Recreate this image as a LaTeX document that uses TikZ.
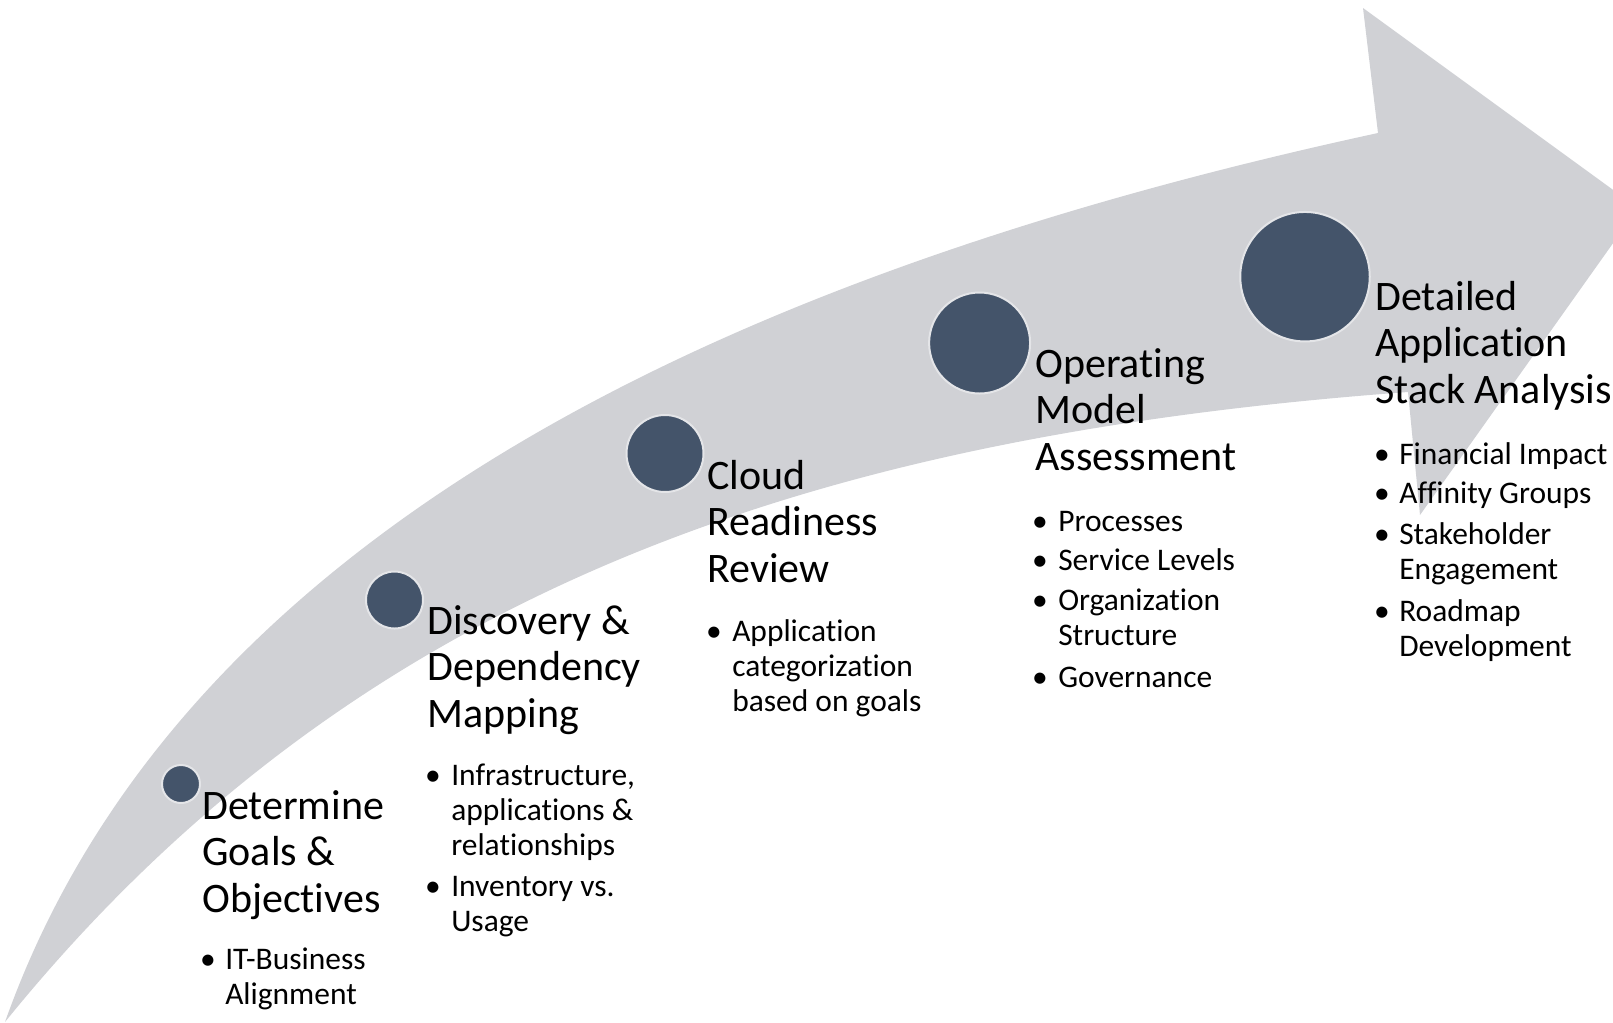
\documentclass[tikz,border=0pt]{standalone}
\usepackage{fontspec}
\setmainfont{Carlito}[Ligatures=NoCommon]
\definecolor{arrowgray}{RGB}{208,209,213}
\definecolor{dotfill}{RGB}{68,84,106}
\definecolor{dotring}{RGB}{228,229,232}
\newcommand\lines[1]{\begin{tabular}[t]{@{}l@{}}#1\end{tabular}}
\begin{document}
\begin{tikzpicture}[x=0.75pt,y=-0.75pt,
  ttl/.style={anchor=base west, inner sep=0pt, font=\fontsize{31.5pt}{35.2pt}\selectfont},
  itm/.style={anchor=base west, inner sep=0pt, font=\fontsize{23.6pt}{26.25pt}\selectfont},
  bul/.style={anchor=base, inner sep=0pt, font=\fontsize{23.6pt}{26.25pt}\selectfont},
  stepdot/.style={circle, fill=dotfill, draw=dotring, line width=1.5pt, inner sep=0pt}]
\useasboundingbox (0,0) rectangle (1613,1022);
\clip (0,0) rectangle (1613,1022);
% curved arrow
\fill[arrowgray] (5,1022) .. controls (189,503) and (792,260) .. (1378,133)
  -- (1363,8) -- (1638,208) -- (1420,515) -- (1408,392)
  .. controls (810,436) and (354,591) .. (5,1022) -- cycle;
% milestone dots
\node[stepdot, minimum size=38pt*0.75] (c1) at (181,784) {};
\node[stepdot, minimum size=57pt*0.75] (c2) at (394.5,600) {};
\node[stepdot, minimum size=77pt*0.75] (c3) at (665,453.5) {};
\node[stepdot, minimum size=101pt*0.75] (c4) at (979.6,343) {};
\node[stepdot, minimum size=129.5pt*0.75] (c5) at (1305,276.7) {};
% 1
\node[ttl] (t1) at (202,819) {\lines{Determine\\Goals \&\\Objectives}};
\node[bul] (b1a) at (208,969) {•};
\node[itm] (i1a) at (225,969) {\lines{IT-Business\\Alignment}};
% 2
\node[ttl] (t2) at (427,634) {\lines{Discovery \&\\Dependency\\Mapping}};
\node[bul] (b2a) at (433,785) {•};
\node[itm] (i2a) at (451,785) {\lines{Infrastructure,\\applications \&\\relationships}};
\node[bul] (b2b) at (433,896) {•};
\node[itm] (i2b) at (451,896) {\lines{Inventory vs.\\Usage}};
% 3
\node[ttl] (t3) at (707,489) {\lines{Cloud\\Readiness\\Review}};
\node[bul] (b3a) at (714,641) {•};
\node[itm] (i3a) at (732,641) {\lines{Application\\categorization\\based on goals}};
% 4
\node[ttl] (t4) at (1035,377) {\lines{Operating\\Model\\Assessment}};
\node[bul] (b4a) at (1040,531) {•};
\node[itm] (i4a) at (1058,531) {Processes};
\node[bul] (b4b) at (1040,570) {•};
\node[itm] (i4b) at (1058,570) {Service Levels};
\node[bul] (b4c) at (1040,610) {•};
\node[itm] (i4c) at (1058,610) {\lines{Organization\\Structure}};
\node[bul] (b4d) at (1040,687) {•};
\node[itm] (i4d) at (1058,687) {Governance};
% 5
\node[ttl] (t5) at (1375,310) {\lines{Detailed\\Application\\Stack Analysis}};
\node[bul] (b5a) at (1382,464) {•};
\node[itm] (i5a) at (1399,464) {Financial Impact};
\node[bul] (b5b) at (1382,503) {•};
\node[itm] (i5b) at (1399,503) {Affinity Groups};
\node[bul] (b5c) at (1382,544) {•};
\node[itm] (i5c) at (1399,544) {\lines{Stakeholder\\Engagement}};
\node[bul] (b5d) at (1382,621) {•};
\node[itm] (i5d) at (1399,621) {\lines{Roadmap\\Development}};
\end{tikzpicture}
\end{document}
